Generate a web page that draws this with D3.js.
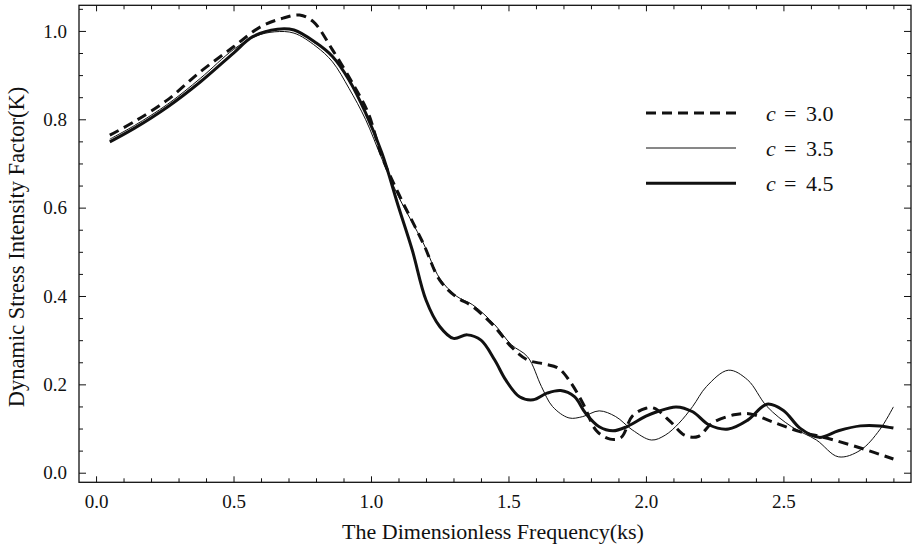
<!DOCTYPE html>
<html>
<head>
<meta charset="utf-8">
<script src="https://cdn.jsdelivr.net/npm/d3@7"></script>
<style>
  body { margin: 0; background: #fff; }
  svg text { font-family: "Liberation Serif", "Times New Roman", serif; fill: #111; }
</style>
</head>
<body>
<div id="chart"></div>
<script>
// c = 3.0 (dashed)
var freqC30 = [0.05,0.14,0.26,0.38,0.5,0.6,0.68,0.74,0.79,0.86,0.94,0.99,1.04,1.1,1.19,1.25,1.31,1.37,1.45,1.51,1.57,1.63,1.68,1.72,1.77,1.82,1.87,1.91,1.95,2.0,2.03,2.09,2.14,2.19,2.24,2.32,2.38,2.46,2.56,2.66,2.78,2.9];
var kC30 = [0.764,0.795,0.844,0.908,0.964,1.010,1.029,1.036,1.021,0.957,0.874,0.814,0.715,0.632,0.519,0.436,0.398,0.376,0.330,0.285,0.255,0.246,0.237,0.210,0.158,0.095,0.076,0.080,0.128,0.146,0.146,0.115,0.085,0.082,0.112,0.131,0.133,0.115,0.093,0.078,0.056,0.031];

// c = 3.5 (thin)
var freqC35 = [0.05,0.14,0.26,0.38,0.5,0.58,0.65,0.72,0.8,0.86,0.92,0.98,1.04,1.1,1.19,1.25,1.31,1.37,1.45,1.51,1.57,1.62,1.66,1.72,1.77,1.83,1.89,1.95,2.02,2.07,2.12,2.17,2.22,2.3,2.37,2.44,2.53,2.62,2.7,2.78,2.85,2.9];
var kC35 = [0.755,0.786,0.834,0.893,0.958,0.988,0.998,0.995,0.965,0.93,0.87,0.80,0.71,0.625,0.52,0.44,0.40,0.38,0.335,0.29,0.262,0.195,0.150,0.124,0.127,0.140,0.127,0.097,0.074,0.085,0.112,0.15,0.195,0.232,0.210,0.150,0.104,0.074,0.036,0.051,0.097,0.149];

// c = 4.5 (thick)
var freqC45 = [0.05,0.14,0.26,0.38,0.5,0.57,0.66,0.72,0.8,0.86,0.92,0.98,1.04,1.1,1.15,1.2,1.25,1.3,1.35,1.4,1.45,1.49,1.54,1.59,1.64,1.69,1.74,1.78,1.83,1.88,1.93,2.0,2.04,2.11,2.17,2.23,2.3,2.37,2.44,2.5,2.56,2.63,2.7,2.78,2.85,2.9];
var kC45 = [0.749,0.780,0.828,0.885,0.950,0.987,1.004,1.002,0.973,0.942,0.889,0.815,0.723,0.602,0.504,0.391,0.331,0.304,0.312,0.300,0.255,0.210,0.172,0.165,0.180,0.186,0.172,0.135,0.104,0.095,0.104,0.128,0.138,0.149,0.138,0.108,0.099,0.119,0.155,0.141,0.101,0.080,0.095,0.106,0.106,0.101];

var legendLabels = ["3.0", "3.5", "4.5"];
var xMajor = [0, 0.5, 1.0, 1.5, 2.0, 2.5];
var yMajor = [0, 0.2, 0.4, 0.6, 0.8, 1.0];

var series = [
    {label: legendLabels[0], x: freqC30, y: kC30, width: 3, dash: "10,6"},
    {label: legendLabels[1], x: freqC35, y: kC35, width: 1, dash: null},
    {label: legendLabels[2], x: freqC45, y: kC45, width: 3, dash: null}
];

var W = 914, H = 550;
var frame = {left: 79, right: 911, top: 5.3, bottom: 482.3};

var svg = d3.select("#chart").append("svg")
    .attr("width", W)
    .attr("height", H);

var x = d3.scaleLinear()
    .domain([-0.062, 2.964])
    .range([frame.left, frame.right]);

var y = d3.scaleLinear()
    .domain([-0.0217, 1.058])
    .range([frame.bottom, frame.top]);

// minor ticks
var xMinor = d3.range(0, 30).map(function(i) { return i / 10; })
    .filter(function(v) { return xMajor.indexOf(v) < 0 && v <= 2.95; });
var yMinor = d3.range(0, 22).map(function(i) { return i / 20; })
    .filter(function(v) { return Math.round(v * 20) % 4 != 0; });

function tickStyle(g) {
    g.select(".domain").remove();
    g.selectAll("line").attr("stroke", "#111").attr("stroke-width", 1);
    g.selectAll("text").attr("font-size", 19);
}

// bottom
svg.append("g")
    .attr("transform", "translate(0," + frame.bottom + ")")
    .call(d3.axisBottom(x).tickValues(xMajor).tickSize(-6).tickPadding(12).tickFormat(d3.format(".1f")))
    .call(tickStyle);
svg.append("g")
    .attr("transform", "translate(0," + frame.bottom + ")")
    .call(d3.axisBottom(x).tickValues(xMinor).tickSize(-4).tickFormat(""))
    .call(tickStyle);
// top
svg.append("g")
    .attr("transform", "translate(0," + frame.top + ")")
    .call(d3.axisTop(x).tickValues(xMajor).tickSize(-6).tickFormat(""))
    .call(tickStyle);
svg.append("g")
    .attr("transform", "translate(0," + frame.top + ")")
    .call(d3.axisTop(x).tickValues(xMinor).tickSize(-4).tickFormat(""))
    .call(tickStyle);
// left
svg.append("g")
    .attr("transform", "translate(" + frame.left + ",0)")
    .call(d3.axisLeft(y).tickValues(yMajor).tickSize(-7).tickPadding(12).tickFormat(d3.format(".1f")))
    .call(tickStyle);
svg.append("g")
    .attr("transform", "translate(" + frame.left + ",0)")
    .call(d3.axisLeft(y).tickValues(yMinor).tickSize(-4).tickFormat(""))
    .call(tickStyle);
// right
svg.append("g")
    .attr("transform", "translate(" + frame.right + ",0)")
    .call(d3.axisRight(y).tickValues(yMajor).tickSize(-7).tickFormat(""))
    .call(tickStyle);
svg.append("g")
    .attr("transform", "translate(" + frame.right + ",0)")
    .call(d3.axisRight(y).tickValues(yMinor).tickSize(-4).tickFormat(""))
    .call(tickStyle);

// frame
svg.append("rect")
    .attr("x", frame.left)
    .attr("y", frame.top)
    .attr("width", frame.right - frame.left)
    .attr("height", frame.bottom - frame.top)
    .attr("fill", "none")
    .attr("stroke", "#111")
    .attr("stroke-width", 1.3);

// curves
var line = d3.line()
    .x(function(d) { return x(d[0]); })
    .y(function(d) { return y(d[1]); })
    .curve(d3.curveCatmullRom.alpha(0.5));

svg.append("g").selectAll(".curve")
    .data(series)
    .enter().append("path")
    .attr("class", "curve")
    .attr("fill", "none")
    .attr("stroke", "#111")
    .attr("stroke-width", function(d) { return d.width; })
    .attr("stroke-dasharray", function(d) { return d.dash; })
    .attr("d", function(d) { return line(d3.zip(d.x, d.y)); });

// legend
var legendY = [113, 148, 183.3];
var leg = svg.append("g").selectAll(".leg")
    .data(series)
    .enter().append("g")
    .attr("class", "leg")
    .attr("transform", function(d, i) { return "translate(0," + legendY[i] + ")"; });

leg.append("line")
    .attr("x1", 646).attr("x2", 736)
    .attr("y1", 0).attr("y2", 0)
    .attr("stroke", "#111")
    .attr("stroke-width", function(d) { return d.width; })
    .attr("stroke-dasharray", function(d) { return d.dash; });

var lt = leg.append("text")
    .attr("y", 7.5)
    .attr("font-size", 22);
lt.append("tspan").attr("x", 766).attr("font-style", "italic").text("c");
lt.append("tspan").attr("x", 784).text("=");
lt.append("tspan").attr("x", 806).text(function(d) { return d.label; });

// axis titles
svg.append("text")
    .attr("x", 493)
    .attr("y", 539)
    .attr("text-anchor", "middle")
    .attr("font-size", 22)
    .text("The Dimensionless Frequency(ks)");

svg.append("text")
    .attr("transform", "translate(24,247) rotate(-90)")
    .attr("text-anchor", "middle")
    .attr("font-size", 22.5)
    .text("Dynamic Stress Intensity Factor(K)");
</script>
</body>
</html>
